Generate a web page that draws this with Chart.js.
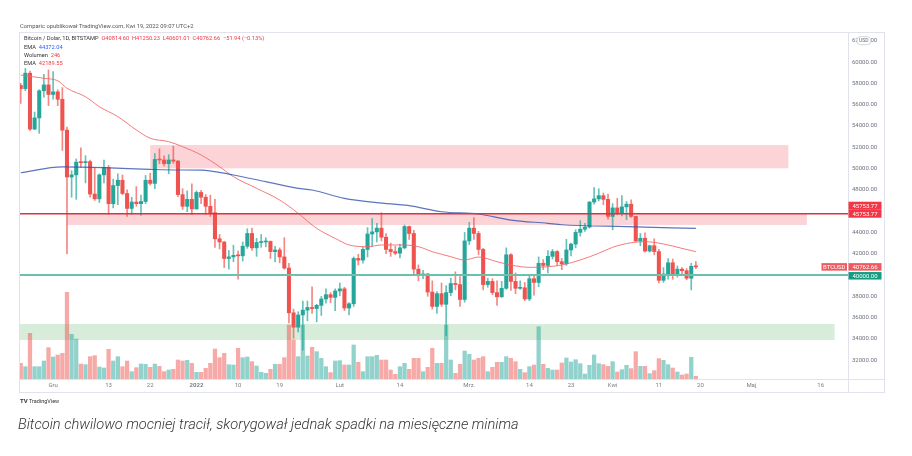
<!DOCTYPE html>
<html><head><meta charset="utf-8">
<script src="https://cdn.jsdelivr.net/npm/chart.js@4.4.1/dist/chart.umd.min.js"></script>
<style>
html,body{margin:0;padding:0;background:#fff;width:912px;height:456px;overflow:hidden;font-family:Roboto,'Liberation Sans',Arial,sans-serif;}
#wrap{position:relative;width:912px;height:456px;}
canvas{position:absolute;left:0;top:0;}
.t{position:absolute;white-space:pre;line-height:1;}
.r{color:#f23645}.b{color:#2962ff}
</style></head><body>
<div id="wrap">
<canvas id="c" width="912" height="456"></canvas>
<div class="t" style="left:20px;top:24px;font-size:5.8px;color:#555">Comparic opublikował TradingView.com, Kwi 19, 2022 09:07 UTC+2</div>
<div class="t" id="leg1" style="left:24px;top:36.3px;font-size:5.7px;color:#333"></div>
<div class="t" id="leg2" style="left:24px;top:44.5px;font-size:5.7px;color:#333"></div>
<div class="t" id="leg3" style="left:24px;top:52.7px;font-size:5.7px;color:#333"></div>
<div class="t" id="leg4" style="left:24px;top:60.7px;font-size:5.7px;color:#333"></div>
<div class="t" style="left:20px;top:398px;font-size:5.5px;color:#333"><b style="font-size:6px">TV</b> TradingView</div>
<div class="t" style="left:18px;top:417px;font-size:14.6px;font-style:italic;font-weight:300;color:#333">Bitcoin chwilowo mocniej tracił, skorygował jednak spadki na miesięczne minima</div>
</div>
<script>
// ---------- DATA ----------
const dates = [
'2021-11-24','2021-11-25','2021-11-26','2021-11-27','2021-11-28','2021-11-29','2021-11-30',
'2021-12-01','2021-12-02','2021-12-03','2021-12-04','2021-12-05','2021-12-06','2021-12-07','2021-12-08','2021-12-09','2021-12-10',
'2021-12-11','2021-12-12','2021-12-13','2021-12-14','2021-12-15','2021-12-16','2021-12-17','2021-12-18','2021-12-19','2021-12-20',
'2021-12-21','2021-12-22','2021-12-23','2021-12-24','2021-12-25','2021-12-26','2021-12-27','2021-12-28','2021-12-29','2021-12-30','2021-12-31',
'2022-01-01','2022-01-02','2022-01-03','2022-01-04','2022-01-05','2022-01-06','2022-01-07','2022-01-08','2022-01-09','2022-01-10',
'2022-01-11','2022-01-12','2022-01-13','2022-01-14','2022-01-15','2022-01-16','2022-01-17','2022-01-18','2022-01-19','2022-01-20',
'2022-01-21','2022-01-22','2022-01-23','2022-01-24','2022-01-25','2022-01-26','2022-01-27','2022-01-28','2022-01-29','2022-01-30','2022-01-31',
'2022-02-01','2022-02-02','2022-02-03','2022-02-04','2022-02-05','2022-02-06','2022-02-07','2022-02-08','2022-02-09','2022-02-10',
'2022-02-11','2022-02-12','2022-02-13','2022-02-14','2022-02-15','2022-02-16','2022-02-17','2022-02-18','2022-02-19','2022-02-20',
'2022-02-21','2022-02-22','2022-02-23','2022-02-24','2022-02-25','2022-02-26','2022-02-27','2022-02-28',
'2022-03-01','2022-03-02','2022-03-03','2022-03-04','2022-03-05','2022-03-06','2022-03-07','2022-03-08','2022-03-09','2022-03-10',
'2022-03-11','2022-03-12','2022-03-13','2022-03-14','2022-03-15','2022-03-16','2022-03-17','2022-03-18','2022-03-19','2022-03-20',
'2022-03-21','2022-03-22','2022-03-23','2022-03-24','2022-03-25','2022-03-26','2022-03-27','2022-03-28','2022-03-29','2022-03-30','2022-03-31',
'2022-04-01','2022-04-02','2022-04-03','2022-04-04','2022-04-05','2022-04-06','2022-04-07','2022-04-08','2022-04-09','2022-04-10',
'2022-04-11','2022-04-12','2022-04-13','2022-04-14','2022-04-15','2022-04-16','2022-04-17','2022-04-18','2022-04-19'
];
const opens = [
57800,57500,58950,53700,54750,57300,57850,
56950,57200,56500,53600,49200,49400,50600,50550,50650,47600,47150,49400,50100,46700,48400,48900,47650,46250,46850,46700,46900,48900,48600,50850,50800,50450,50800,50700,47550,46450,47100,
46200,47750,47300,46450,45850,43400,43100,41550,41700,41850,41800,42700,43900,42550,43050,43100,43150,42200,42350,41700,40650,36450,35100,36250,36700,36950,36850,37150,37750,38150,37900,
38500,38700,36900,37300,41550,41400,42400,43850,44050,44400,43550,42400,42200,42050,42550,44550,43900,40550,40000,40100,38400,37050,38250,37250,38350,39200,39100,37700,
43200,44400,43900,42400,39100,39400,38350,37950,38750,41900,39400,38750,38800,37750,39650,39300,41100,40900,41750,42200,41250,41050,42350,42900,44000,44300,44500,46850,47150,47450,47100,
45500,46300,45850,46400,46650,45500,43200,43450,42250,42750,42200,39500,40100,41150,39950,40550,40400,39700,40814.60
];
const highs = [
58000,59400,59150,55300,57400,58850,59250,
59100,57400,57600,53900,49800,50900,51950,51200,50800,50100,49500,50800,50300,49000,49500,49400,48000,47300,48300,47500,49350,49550,51400,51850,51200,51300,52100,50750,48100,47900,48550,
47900,47950,47550,47500,47100,43800,43150,42300,42800,42250,43100,44350,44400,43450,43800,43500,43200,42700,42550,43500,41100,36800,36550,37550,37550,38900,37250,38000,38700,38350,38700,
39250,38850,37400,41700,41950,42600,44450,45300,44850,45850,43900,43000,42700,42900,44700,44600,44200,40950,40450,40150,39450,38450,39250,39000,39700,40300,39850,44000,
44950,45400,44100,42500,39700,39650,39450,39400,42550,42000,40200,39450,39300,39900,39900,41700,41450,42300,42400,42300,41550,43350,43000,44250,45100,44850,46900,48200,48100,47700,47600,
46700,47200,47450,46900,47050,45500,43900,43950,42800,43400,42400,40700,41550,41500,40850,40700,40600,41100,41250.23
];
const lows = [
56100,57300,53550,53650,53300,56700,55900,
56500,55900,51700,42000,47300,47100,50100,48650,47300,47000,46800,48650,45700,46300,46600,47550,45500,45700,46450,45600,46700,48450,48100,50450,50250,49500,50500,47350,46150,45950,45700,
46200,46700,45700,45500,42600,42450,40700,40550,41250,39600,41300,42500,42300,41750,42600,42650,41550,41250,41150,40550,35500,34050,34650,32950,35700,36400,35600,36200,37350,37400,36650,
38050,36650,36250,37050,40950,41100,41700,42700,43100,43200,42000,41750,41900,41600,42450,43350,40100,39450,39650,38000,36800,36400,37050,34300,38050,38600,37050,37450,
42850,43350,41900,38600,38850,38150,37150,37900,38650,38550,38250,38650,37600,37600,38100,38900,40500,40200,41500,40900,40500,40900,41800,42550,43650,44100,44400,46650,46950,46600,45250,
44250,45650,45550,45200,45400,43150,42750,42150,42150,41900,39250,39300,39600,39600,39800,40050,39550,38600,40601.01
];
const closes = [
57500,58950,53700,54750,57300,57850,56950,
57200,56500,53600,49200,49400,50600,50550,50650,47600,47150,49400,50100,46700,48400,48900,47650,46250,46850,46700,46900,48900,48600,50850,50800,50450,50800,50700,47550,46450,47100,46200,
47750,47300,46450,45850,43400,43100,41550,41700,41850,41800,42700,43900,42550,43050,43100,43150,42200,42350,41700,40650,36450,35100,36250,36700,36950,36850,37150,37750,38150,37900,38500,
38700,36900,37300,41550,41400,42400,43850,44050,44400,43550,42400,42200,42050,42550,44550,43900,40550,40000,40100,38400,37050,38250,37250,38350,39200,39100,37700,43200,
44400,43900,42400,39100,39400,38350,37950,38750,41900,39400,38750,38800,37750,39650,39300,41100,40900,41750,42200,41250,41050,42350,42900,44000,44300,44500,46850,47150,47450,47100,45500,
46300,45850,46400,46650,45500,43200,43450,42250,42750,42200,39500,40100,41150,39950,40550,40400,39700,40814.60,40762.66
];
const volumes = [
1410,1110,4110,1110,1110,1620,2820,
1980,2160,2310,7800,4020,3600,1350,1290,2010,2100,1080,990,2670,1620,2010,1110,1620,660,1020,1350,1320,1050,1350,1140,660,810,870,1710,1620,1680,1410,
600,600,960,1410,2700,1920,2310,1290,1260,2760,1920,1980,1560,1170,600,510,870,1320,1320,1920,4860,3510,2010,4860,2070,2850,2460,1860,1110,570,1620,
1650,1260,1260,3060,1500,660,2010,2010,2130,1710,1710,810,420,1110,1410,870,1860,1860,660,1050,2760,1410,1410,4860,1710,510,1320,2520,
2220,1710,1860,2010,660,1050,1500,1500,2010,1860,1560,870,570,1110,1260,4710,1320,960,810,810,1440,1890,1530,1740,1380,450,1230,2160,1380,1290,1140,
1560,630,840,1230,930,2460,1140,1140,480,750,1830,1680,1290,990,630,360,450,1950,246
];
// EMA (slow, blue) and EMA (fast, red)
const emaSlowDates = ['2021-11-24','2021-12-03','2021-12-12','2021-12-22','2021-12-28','2022-01-02','2022-01-09','2022-01-16','2022-01-23','2022-01-26','2022-02-02','2022-02-09','2022-02-16','2022-02-23','2022-03-03','2022-03-10','2022-03-18','2022-03-21','2022-04-04','2022-04-19'];
const emaSlowVals  = [49600,50150,50080,49920,49860,49850,49390,48760,48140,47980,47200,46790,46510,45940,45730,45160,44850,44720,44540,44372.04];
const emaFastDates = ['2021-11-24','2021-11-29','2021-12-02','2021-12-04','2021-12-08','2021-12-11','2021-12-15','2021-12-19','2021-12-22','2021-12-26','2021-12-29','2022-01-02','2022-01-06','2022-01-09','2022-01-14','2022-01-19','2022-01-23','2022-01-27','2022-01-31','2022-02-03','2022-02-07','2022-02-10','2022-02-14','2022-02-18','2022-02-21','2022-02-25','2022-02-28','2022-03-03','2022-03-07','2022-03-10','2022-03-14','2022-03-18','2022-03-21','2022-03-25','2022-03-29','2022-04-01','2022-04-05','2022-04-08','2022-04-12','2022-04-16','2022-04-19'];
const emaFastVals  = [58780,58470,58240,57530,56740,55800,54870,53620,52840,52520,52050,51270,50170,49230,48140,47040,45790,44380,43440,42820,42660,42820,42820,42660,42190,41720,41410,41690,41250,40940,40720,40780,40940,41410,42040,42600,43030,43130,42910,42500,42189.55];
// zones (rectangles) and horizontal levels
const zoneStart = ['2021-12-22','2021-12-04','2021-11-01'];
const zoneEnd   = ['2022-05-09','2022-05-13','2022-05-19'];
const zoneHigh  = [52200, 45760, 35400];
const zoneLow   = [50020, 44700, 33900];
const levelPrices = [45753.77, 40000];
// axis ticks
const timeTickDates  = ['2021-12-01','2021-12-13','2021-12-22','2022-01-01','2022-01-10','2022-01-19','2022-02-01','2022-02-14','2022-03-01','2022-03-14','2022-03-23','2022-04-01','2022-04-11','2022-04-20','2022-05-01','2022-05-16'];
const timeTickLabels = ['Gru','13','22','2022','10','19','Lut','14','Mrz.','14','23','Kwi','11','20','Maj','16'];
const priceTicks = [32000,34000,36000,38000,40000,42000,44000,46000,48000,50000,52000,54000,56000,58000,60000,62000];

// ---------- HELPERS ----------
const REF = Date.parse('2021-12-01');
const dayOf = s => (Date.parse(s) - REF) / 864e5;
const xs = dates.map(dayOf);
const up = closes.map((c, i) => c >= opens[i]);
const GREEN = '#26a69a', RED = '#ef5350';
const n = closes.length - 1;

// legend text
const chg = closes[n] - closes[n - 1];
const pct = chg / closes[n - 1] * 100;
const sgn = v => (v < 0 ? '\u2212' : '+') + Math.abs(v).toFixed(2);
document.getElementById('leg1').innerHTML =
  'Bitcoin / Dolar, 1D, BITSTAMP  <span class="r">O' + opens[n].toFixed(2) + '  H' + highs[n].toFixed(2) +
  '  L' + lows[n].toFixed(2) + '  C' + closes[n].toFixed(2) + '  ' + sgn(chg) + ' (' + sgn(pct) + '%)</span>';
document.getElementById('leg2').innerHTML = 'EMA  <span class="b">' + emaSlowVals[emaSlowVals.length - 1].toFixed(2) + '</span>';
document.getElementById('leg3').innerHTML = 'Wolumen  <span class="r">' + volumes[n] + '</span>';
document.getElementById('leg4').innerHTML = 'EMA  <span class="r">' + emaFastVals[emaFastVals.length - 1].toFixed(2) + '</span>';

Chart.defaults.font.family = "Roboto, 'Liberation Sans', Arial, sans-serif";

function tag(ctx, x0, w, yc, h, bg, text) {
  ctx.fillStyle = bg;
  ctx.fillRect(x0, yc - h / 2, w, h);
  ctx.fillStyle = '#fff';
  ctx.font = '6px Roboto, "Liberation Sans", sans-serif';
  ctx.textBaseline = 'middle';
  ctx.textAlign = 'center';
  ctx.fillText(text, x0 + w / 2, yc + 0.5, w - 2);
}

const overlay = {
  id: 'overlay',
  beforeDatasetsDraw(chart) {
    const { ctx, chartArea: a, scales: { x, y } } = chart;
    ctx.save();
    ctx.beginPath(); ctx.rect(a.left, a.top, a.right - a.left, a.bottom - a.top); ctx.clip();
    const cols = ['rgba(242,54,69,0.22)', 'rgba(242,54,69,0.22)', 'rgba(76,175,80,0.22)'];
    zoneStart.forEach((s, i) => {
      const x0 = x.getPixelForValue(dayOf(s)), x1 = x.getPixelForValue(dayOf(zoneEnd[i]));
      const y0 = y.getPixelForValue(zoneHigh[i]), y1 = y.getPixelForValue(zoneLow[i]);
      ctx.fillStyle = cols[i];
      ctx.fillRect(x0, y0, x1 - x0, y1 - y0);
    });
    ctx.restore();
  },
  afterDatasetsDraw(chart) {
    const { ctx, chartArea: a, scales: { y } } = chart;
    ctx.save();
    const lc = ['#e0313b', '#6cc0ac'], lw = [1.5, 2];
    levelPrices.forEach((p, i) => {
      const yy = y.getPixelForValue(p);
      ctx.strokeStyle = lc[i]; ctx.lineWidth = lw[i];
      ctx.beginPath(); ctx.moveTo(a.left, yy); ctx.lineTo(a.right, yy); ctx.stroke();
    });
    ctx.restore();
  },
  afterDraw(chart) {
    const { ctx, chartArea: a, scales: { y } } = chart;
    ctx.save();
    // frame
    ctx.strokeStyle = '#e0e3eb'; ctx.lineWidth = 1;
    ctx.strokeRect(19.5, 32.5, 865, 360);
    ctx.beginPath();
    ctx.moveTo(Math.round(a.right) + 0.5, 32.5); ctx.lineTo(Math.round(a.right) + 0.5, 392.5);
    ctx.moveTo(19.5, Math.round(a.bottom) + 0.5); ctx.lineTo(884.5, Math.round(a.bottom) + 0.5);
    ctx.stroke();
    const ax = a.right + 0.5, aw = 33;
    // level labels
    const yl = y.getPixelForValue(levelPrices[0]);
    tag(ctx, ax, aw, yl - 8, 8, '#f23645', levelPrices[0].toFixed(2));
    tag(ctx, ax, aw, yl, 8, '#f23645', levelPrices[0].toFixed(2));
    const yc = y.getPixelForValue(closes[n]);
    tag(ctx, ax, aw, yc, 7.5, '#f05a5f', closes[n].toFixed(2));
    tag(ctx, a.right - 26.5, 25.5, yc, 7.5, '#f05a5f', 'BTCUSD');
    const yg = y.getPixelForValue(levelPrices[1]);
    tag(ctx, ax, aw, yg + 0.8, 7.5, '#149c83', levelPrices[1].toFixed(2));
    // USD pill
    const yt = y.getPixelForValue(priceTicks[priceTicks.length - 1]);
    ctx.fillStyle = '#fff'; ctx.strokeStyle = '#c9ccd4'; ctx.lineWidth = 0.8;
    ctx.beginPath();
    if (ctx.roundRect) ctx.roundRect(857, yt - 4, 13.5, 8, 3); else ctx.rect(857, yt - 4, 13.5, 8);
    ctx.fill(); ctx.stroke();
    ctx.fillStyle = '#666'; ctx.font = '5px Roboto, sans-serif'; ctx.textAlign = 'center'; ctx.textBaseline = 'middle';
    ctx.fillText('USD', 863.75, yt + 0.5);
    ctx.restore();
  }
};

new Chart(document.getElementById('c'), {
  type: 'bar',
  data: {
    datasets: [
      { type: 'line', label: 'EMA slow', data: emaSlowDates.map((d, i) => ({ x: dayOf(d), y: emaSlowVals[i] })),
        borderColor: 'rgba(50,82,175,0.8)', borderWidth: 1.2, pointRadius: 0, cubicInterpolationMode: 'monotone', yAxisID: 'y', order: 1 },
      { type: 'line', label: 'EMA fast', data: emaFastDates.map((d, i) => ({ x: dayOf(d), y: emaFastVals[i] })),
        borderColor: 'rgba(242,100,100,0.85)', borderWidth: 1, pointRadius: 0, cubicInterpolationMode: 'monotone', yAxisID: 'y', order: 1 },
      { label: 'body', data: xs.map((x, i) => ({ x, y: [opens[i], closes[i]] })),
        backgroundColor: up.map(u => u ? GREEN : RED), barThickness: 3.4, minBarLength: 1, grouped: false, yAxisID: 'y', order: 2 },
      { label: 'wick', data: xs.map((x, i) => ({ x, y: [lows[i], highs[i]] })),
        backgroundColor: up.map(u => u ? 'rgba(38,166,154,0.7)' : 'rgba(239,83,80,0.7)'), barThickness: 1, grouped: false, yAxisID: 'y', order: 3 },
      { label: 'volume', data: xs.map((x, i) => ({ x, y: volumes[i] })),
        backgroundColor: up.map(u => u ? 'rgba(38,166,154,0.5)' : 'rgba(239,83,80,0.5)'), barThickness: 3.6, grouped: false, yAxisID: 'yv', order: 4 }
    ]
  },
  options: {
    responsive: false, animation: false, devicePixelRatio: 1,
    layout: { padding: { left: 20, top: 33, right: 28, bottom: 64 } },
    plugins: { legend: { display: false }, tooltip: { enabled: false } },
    scales: {
      x: {
        type: 'linear', min: -7.16, max: 171.9, offset: false,
        grid: { display: false, drawTicks: false }, border: { display: false },
        afterBuildTicks: s => { s.ticks = timeTickDates.map(d => ({ value: dayOf(d) })); },
        afterFit: s => { s.height = 13; },
        ticks: {
          autoSkip: false, maxRotation: 0, padding: 3, color: '#7a7d85',
          font: c => ({ size: 6, weight: (c.tick && c.tick.value === dayOf('2022-01-01')) ? 'bold' : 'normal' }),
          callback: v => { const i = timeTickDates.findIndex(d => dayOf(d) === v); return i >= 0 ? timeTickLabels[i] : ''; }
        }
      },
      y: {
        type: 'linear', position: 'right', min: 30235, max: 62723,
        grid: { display: false, drawTicks: false }, border: { display: false },
        afterBuildTicks: s => { s.ticks = priceTicks.map(v => ({ value: v })); },
        afterFit: s => { s.width = 36; },
        ticks: { padding: 4, color: '#6f7280', font: { size: 6 }, autoSkip: false, callback: v => Number(v).toFixed(2) }
      },
      yv: { type: 'linear', display: false, min: 0, max: 31140 }
    }
  },
  plugins: [overlay]
});
</script>
</body></html>
